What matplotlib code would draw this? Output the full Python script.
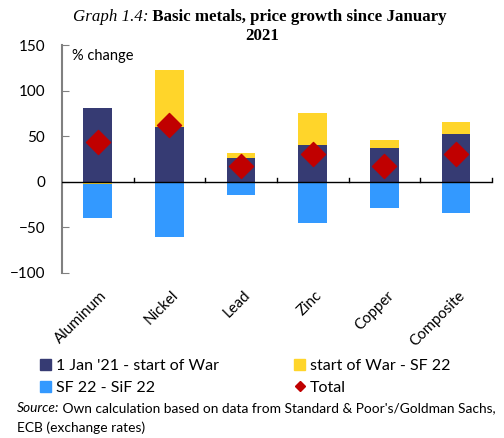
import numpy as np
import matplotlib.pyplot as plt
from matplotlib.patches import Patch
from matplotlib.lines import Line2D

plt.rcParams['font.family'] = ['Lato', 'DejaVu Sans']

metales = ['Aluminum', 'Nickel', 'Lead', 'Zinc', 'Copper', 'Composite']
antes_guerra = [80.7, 60.1, 26.4, 40.3, 37.0, 52.4]     # 1 Jan '21 - start of War
guerra_sf22 = [-2.0, 62.6, 5.0, 34.8, 8.8, 12.8]        # start of War - SF 22
sf22_sif22 = [-37.4, -61.0, -15.0, -45.0, -29.3, -34.8] # SF 22 - SiF 22
total = [44.0, 62.3, 17.0, 30.4, 17.0, 30.4]

c_navy = '#363b73'
c_amarillo = '#ffd52a'
c_azul = '#3399ff'
c_rojo = '#c00000'

fig = plt.figure(figsize=(5.04, 4.38), dpi=100)
ax = fig.add_axes([0.123, 0.377, 0.853, 0.52])

x = np.arange(len(metales))
ancho = 0.4

a = np.array(antes_guerra)
g = np.array(guerra_sf22)
s = np.array(sf22_sif22)

# apilado: positivos sobre positivos, negativos bajo negativos
base_g = np.where(g >= 0, np.maximum(a, 0), np.minimum(a, 0))
base_s = np.where(s >= 0, np.maximum(a, 0) + np.maximum(g, 0),
                  np.minimum(a, 0) + np.minimum(g, 0))

ax.bar(x, a, ancho, color=c_navy, zorder=2)
ax.bar(x, g, ancho, bottom=base_g, color=c_amarillo, zorder=2)
ax.bar(x, s, ancho, bottom=base_s, color=c_azul, zorder=2)
ax.scatter(x, total, marker='D', s=150, color=c_rojo, zorder=3)

ax.set_xlim(-0.5, len(metales) - 0.5)
ax.set_ylim(-100, 150)
ax.set_yticks([-100, -50, 0, 50, 100, 150])
ax.tick_params(axis='y', direction='in', length=5, color='#808080',
               labelsize=11, pad=12)

for lado in ['top', 'right', 'bottom']:
    ax.spines[lado].set_visible(False)
ax.spines['left'].set_color('#808080')
ax.spines['left'].set_linewidth(1.5)

ax.axhline(0, color='black', lw=1, zorder=4)
ax.set_xticks([])
# marcas entre categorías, hacia arriba desde cero
for xb in np.arange(0.5, len(metales), 1.0):
    ax.plot([xb, xb], [0, 4], color='black', lw=1, zorder=4, clip_on=False)

for xi, nombre in zip(x, metales):
    ax.text(xi + 0.03, -117, nombre, rotation=45, ha='right', va='top',
            rotation_mode='anchor', fontsize=10.8)

ax.text(0.023, 0.985, '% change', transform=ax.transAxes, fontsize=10.5,
        va='top', ha='left')

# titulo
t1 = fig.text(73 / 504, 1 - 17 / 438, 'Graph 1.4:', family='Liberation Serif',
              style='italic', fontsize=12.2, va='center', ha='left')
ax.annotate(' Basic metals, price growth since January', xy=(1, 0.5),
            xycoords=t1, va='center', ha='left', family='Liberation Serif',
            weight='bold', fontsize=12.2, annotation_clip=False)
fig.text(262 / 504, 1 - 36 / 438, '2021', family='Liberation Serif',
         weight='bold', fontsize=12.2, va='center', ha='center')

manijas = [Patch(color=c_navy), Patch(color=c_amarillo), Patch(color=c_azul),
           Line2D([], [], marker='D', color=c_rojo, lw=0, markersize=5)]
etiquetas = ["1 Jan '21 - start of War", 'start of War - SF 22',
             'SF 22 - SiF 22', 'Total']
fig.legend([manijas[0], manijas[2], manijas[1], manijas[3]],
           [etiquetas[0], etiquetas[2], etiquetas[1], etiquetas[3]],
           ncol=2, loc='center left', bbox_to_anchor=(40 / 504, 1 - 377 / 438),
           frameon=False, fontsize=11.5, handlelength=0.7, handleheight=0.7,
           handletextpad=0.3, columnspacing=4.7, labelspacing=0.45,
           borderaxespad=0, borderpad=0)

s1 = fig.text(17 / 504, 1 - 408 / 438, 'Source:', style='italic',
              fontsize=9.9, va='center', ha='left')
ax.annotate(" Own calculation based on data from Standard & Poor's/Goldman Sachs,",
            xy=(1, 0.5), xycoords=s1, va='center', ha='left', fontsize=9.9,
            annotation_clip=False)
fig.text(17 / 504, 1 - 428 / 438, 'ECB (exchange rates)',
         fontsize=9.9, va='center', ha='left')

fig.savefig('out.png', dpi=100)
